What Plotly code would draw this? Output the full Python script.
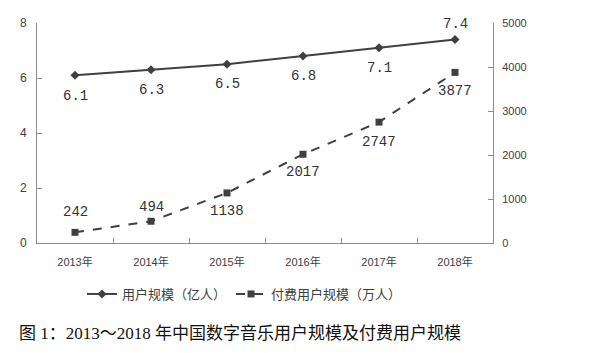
import plotly.graph_objects as go

years = ["2013年", "2014年", "2015年", "2016年", "2017年", "2018年"]
users = [6.1, 6.3, 6.5, 6.8, 7.1, 7.4]
paid = [242, 494, 1138, 2017, 2747, 3877]
users_text = ["6.1", "6.3", "6.5", "6.8", "7.1", "7.4"]
paid_text = ["242", "494", "1138", "2017", "2747", "3877"]
users_shift = [-21, -20, -20, -20, -20, 16]
paid_shift = [20, 14, -18, -18, -20, -19]

W, H = 602, 353
L, R, T, B = 37, 493, 23, 243

line_color = "#404040"
axis_color = "#8c8c8c"
text_color = "#404040"
lbl_font = dict(family="Liberation Mono, Noto Sans CJK SC", size=14, color="#333333")

fig = go.Figure()
fig.add_trace(go.Scatter(
    x=years, y=users, name="用户规模（亿人）", mode="lines+markers",
    line=dict(color=line_color, width=2),
    marker=dict(symbol="diamond", size=7, color=line_color),
))
fig.add_trace(go.Scatter(
    x=years, y=paid, name="付费用户规模（万人）", mode="lines+markers", yaxis="y2",
    line=dict(color=line_color, width=2, dash="dash"),
    marker=dict(symbol="square", size=7, color=line_color),
))

for xv, yv, t, s in zip(years, users, users_text, users_shift):
    fig.add_annotation(x=xv, y=yv, xref="x", yref="y", text=t, showarrow=False,
                       yshift=s, font=lbl_font)
for xv, yv, t, s in zip(years, paid, paid_text, paid_shift):
    fig.add_annotation(x=xv, y=yv, xref="x", yref="y2", text=t, showarrow=False,
                       yshift=s, font=lbl_font)

tick_font = dict(family="Liberation Sans, Noto Sans CJK SC", size=11, color=text_color)

fig.update_layout(
    width=W, height=H,
    margin=dict(l=L, r=W - R, t=T, b=H - B),
    paper_bgcolor="white", plot_bgcolor="white",
    showlegend=True,
    xaxis=dict(
        type="category", tickson="boundaries", ticks="inside", ticklen=5,
        tickcolor=axis_color, showline=True, linecolor=axis_color, linewidth=1,
        showgrid=False, tickfont=tick_font, range=[-0.5, 5.5], ticklabelstandoff=9,
    ),
    yaxis=dict(
        range=[0, 8], dtick=2, ticks="inside", ticklen=5, tickcolor=axis_color,
        showline=True, linecolor=axis_color, linewidth=1, showgrid=False,
        zeroline=False, tickfont=dict(family="Liberation Sans", size=12, color=text_color),
        ticklabelstandoff=7,
    ),
    yaxis2=dict(
        range=[0, 5000], dtick=1000, overlaying="y", side="right",
        ticks="inside", ticklen=5, tickcolor=axis_color,
        showline=True, linecolor=axis_color, linewidth=1, showgrid=False,
        zeroline=False, tickfont=dict(family="Liberation Sans", size=11, color=text_color),
        ticklabelstandoff=6,
    ),
    legend=dict(
        orientation="h", x=(82 - L) / (R - L), xanchor="left",
        y=(B - 294) / (B - T), yanchor="middle",
        font=dict(family="Noto Sans CJK SC", size=13, color=text_color),
        itemwidth=30, tracegroupgap=0,
    ),
)

fig.add_annotation(
    text="图 1：2013～2018 年中国数字音乐用户规模及付费用户规模",
    xref="paper", yref="paper",
    x=(17 - L) / (R - L), xanchor="left",
    y=(B - 333) / (B - T), yanchor="middle",
    showarrow=False,
    font=dict(family="Liberation Serif, Noto Sans CJK SC", size=17, color="#111111"),
)

fig.write_html("out.html")
